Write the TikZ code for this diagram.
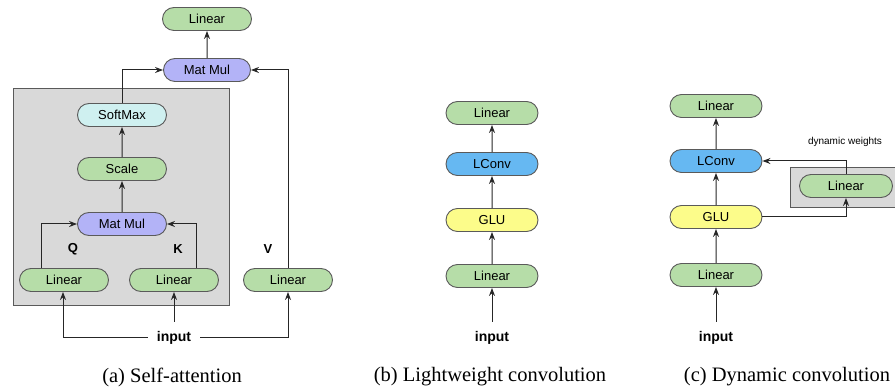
\documentclass[tikz,border=0pt]{standalone}
\usepackage{fontspec}
\setmainfont{Liberation Serif}
\newfontfamily\nodefont{Liberation Sans}
\usetikzlibrary{shapes.misc,arrows.meta}
\definecolor{cgreen}{HTML}{B6DDA8}
\definecolor{cpurple}{HTML}{B3B3F7}
\definecolor{ccyan}{HTML}{CFF0F0}
\definecolor{cblue}{HTML}{66B8F2}
\definecolor{cyellow}{HTML}{FCFC8A}
\definecolor{cgray}{HTML}{D9D9D9}
\definecolor{cborder}{HTML}{5A5A5A}
\tikzset{
  blk/.style={rounded rectangle, draw=cborder, line width=0.9pt, minimum width=89pt, minimum height=23pt, inner sep=0pt, font=\nodefont\fontsize{13}{15}\selectfont},
  gbox/.style={draw=cborder, fill=cgray, line width=0.9pt},
  arr/.style={-{Stealth[length=8pt,width=6pt]}, line width=1pt, draw=black!85},
  lbl/.style={font=\nodefont\bfseries\fontsize{13}{15}\selectfont, inner sep=0pt},
  inp/.style={font=\nodefont\bfseries\fontsize{14}{16}\selectfont, inner sep=0pt},
  captxt/.style={font=\fontsize{20.5}{23}\selectfont, inner sep=0pt}
}
\begin{document}
\begin{tikzpicture}[x=1pt,y=-1pt]
\useasboundingbox (0,0) rectangle (895,390);
% ---------- (a) ----------
\draw[gbox] (13,88) rectangle (229,305);
\node[blk, fill=cgreen] (aLin) at (207,19) {Linear};
\node[blk, fill=cpurple, minimum width=87pt] (aMM) at (207,70) {Mat Mul};
\node[blk, fill=ccyan] (aSM) at (122,115) {SoftMax};
\node[blk, fill=cgreen] (aSc) at (122,169) {Scale};
\node[blk, fill=cpurple] (aMM2) at (122,224) {Mat Mul};
\node[blk, fill=cgreen] (aQ) at (64,280) {Linear};
\node[blk, fill=cgreen] (aK) at (174,280) {Linear};
\node[blk, fill=cgreen] (aV) at (288,280) {Linear};
\node[lbl] (lQ) at (73,249) {Q};
\node[lbl] (lK) at (178,249) {K};
\node[lbl] (lV) at (268,249) {V};
\node[inp, inner xsep=9pt] (aIn) at (174,338) {input};
\coordinate (aKs) at (174,322);
\draw[arr] (aMM) -- (aLin);
\draw[arr] (aSM.north) |- (aMM.west);
\draw[arr] (aV.north) |- (aMM.east);
\draw[arr] (aSc) -- (aSM);
\draw[arr] (aMM2) -- (aSc);
\draw[arr] (aQ.north -| 41,0) |- (aMM2.west);
\draw[arr] (aK.north -| 196,0) |- (aMM2.east);
\draw[arr] (aIn.west) -| (aQ.south -| 63,0);
\draw[arr] (aIn.east) -| (aV.south);
\draw[arr] (aKs) -- (aK.south);
\node[captxt] (capa) at (172,377) {(a) Self-attention};
% ---------- (b) ----------
\node[blk, fill=cgreen, minimum width=92pt] (bLin) at (492,113) {Linear};
\node[blk, fill=cblue, minimum width=92pt] (bLC) at (492,164) {LConv};
\node[blk, fill=cyellow, minimum width=92pt] (bGLU) at (492,220) {GLU};
\node[blk, fill=cgreen, minimum width=92pt] (bLin2) at (492,276) {Linear};
\node[inp] (bIn) at (492,338) {input};
\coordinate (bS) at (492,322);
\draw[arr] (bLC) -- (bLin);
\draw[arr] (bGLU) -- (bLC);
\draw[arr] (bLin2) -- (bGLU);
\draw[arr] (bS) -- (bLin2);
\node[captxt] (capb) at (490,377) {(b) Lightweight convolution};
% ---------- (c) ----------
\draw[gbox] (790,167) rectangle (900,207);
\node[blk, fill=cgreen, minimum width=92pt] (cLin) at (716,106) {Linear};
\node[blk, fill=cblue, minimum width=92pt] (cLC) at (716,161) {LConv};
\node[blk, fill=cyellow, minimum width=92pt] (cGLU) at (716,217) {GLU};
\node[blk, fill=cgreen, minimum width=92pt] (cLin2) at (716,275) {Linear};
\node[blk, fill=cgreen, minimum width=93pt] (cDyn) at (846,186) {Linear};
\node[font=\nodefont\fontsize{10}{12}\selectfont, inner sep=0pt] (dw) at (845,142) {dynamic weights};
\node[inp] (cIn) at (716,338) {input};
\coordinate (cS) at (716,322);
\draw[arr] (cLC) -- (cLin);
\draw[arr] (cGLU) -- (cLC);
\draw[arr] (cLin2) -- (cGLU);
\draw[arr] (cS) -- (cLin2);
\draw[arr] (cDyn.north) |- (cLC.east);
\draw[arr] (cGLU.east) -| (cDyn.south);
\node[captxt] (capc) at (787,377) {(c) Dynamic convolution};
\end{tikzpicture}
\end{document}
